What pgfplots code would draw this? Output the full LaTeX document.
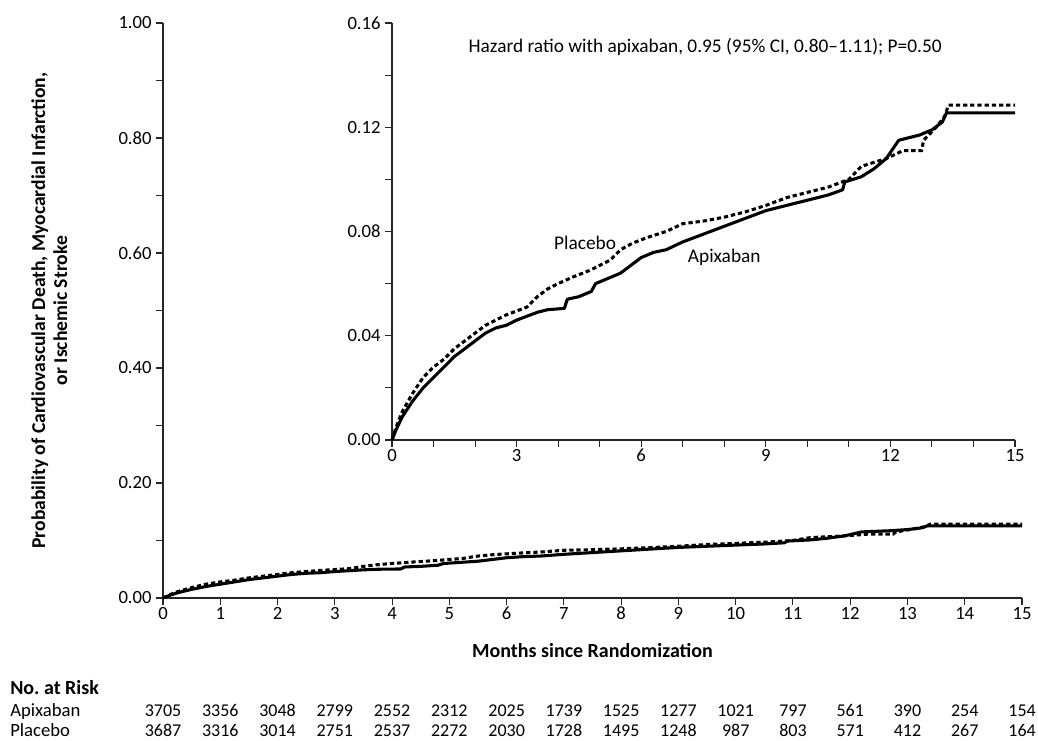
\documentclass[border=0pt]{standalone}
\usepackage{fontspec}
\setmainfont{Carlito}[Numbers=Lining]
\usepackage{pgfplots}
\pgfplotsset{compat=1.18}
\usepackage{pgfplotstable}

% Kaplan-Meier estimates (months, cumulative probability)
\pgfplotstableread{
t y
0 0
0.1 0.004
0.25 0.009
0.5 0.015
0.75 0.020
1.0 0.024
1.25 0.028
1.5 0.032
1.75 0.035
2.0 0.038
2.25 0.041
2.5 0.043
2.75 0.044
3.0 0.046
3.25 0.0475
3.5 0.049
3.75 0.050
4.15 0.0505
4.22 0.054
4.5 0.055
4.8 0.057
4.9 0.060
5.2 0.062
5.5 0.064
5.75 0.067
6.0 0.070
6.3 0.072
6.6 0.073
7.0 0.076
7.5 0.079
8.0 0.082
8.5 0.085
9.0 0.088
9.5 0.090
10.0 0.092
10.5 0.094
10.85 0.096
10.9 0.099
11.3 0.101
11.6 0.104
11.9 0.108
12.2 0.115
12.7 0.117
13.0 0.119
13.25 0.122
13.35 0.1255
15.0 0.1255
}\apixaban

\pgfplotstableread{
t y
0 0
0.1 0.005
0.25 0.011
0.5 0.018
0.75 0.024
1.0 0.028
1.25 0.031
1.5 0.035
1.75 0.038
2.0 0.041
2.25 0.044
2.5 0.046
2.75 0.048
3.0 0.0495
3.25 0.051
3.5 0.055
3.75 0.058
4.0 0.060
4.35 0.0625
4.75 0.065
5.0 0.067
5.25 0.069
5.5 0.073
5.8 0.0756
6.2 0.078
6.6 0.080
7.0 0.083
7.5 0.084
8.0 0.0855
8.5 0.0875
9.0 0.090
9.5 0.093
10.0 0.095
10.5 0.097
11.0 0.100
11.3 0.105
11.9 0.108
12.3 0.111
12.75 0.111
12.8 0.115
13.1 0.120
13.3 0.124
13.4 0.1285
15.0 0.1285
}\placebo

\pgfplotsset{
  km/.style={
    scale only axis,
    axis lines*=left,
    axis line style={line width=0.8pt, black!85},
    tick style={line width=0.8pt, black!85},
    tick align=outside,
    major tick length=5pt,
    minor tick length=5pt,
    xmin=0, xmax=15,
    tick label style={font=\fontsize{14}{16}\selectfont},
    xticklabel style={text height=1.6ex, text depth=0pt},
    /pgf/number format/assume math mode=true,
    clip=false,
  },
  apix/.style={black, line width=2.3pt, line join=round},
  plac/.style={black, line width=2.3pt, dash pattern=on 3.2pt off 2.2pt},
}

\begin{document}
\begin{tikzpicture}
\path[use as bounding box] (0pt,0pt) rectangle (778.5pt,555pt);

\begin{axis}[km,
  at={(122.25pt,106.5pt)}, anchor=south west,
  width=644.25pt, height=431.25pt,
  ymin=0, ymax=1,
  xtick={0,1,...,15},
  ytick={0,0.2,0.4,0.6,0.8,1.0},
  minor ytick={0.1,0.3,0.5,0.7,0.9},
  yticklabel style={/pgf/number format/fixed, /pgf/number format/fixed zerofill, /pgf/number format/precision=2},
  xlabel={Months since Randomization},
  xlabel style={font=\fontsize{15}{17}\selectfont\bfseries, at={(axis description cs:0.5,-0.092)}, anchor=center},
  ylabel={Probability of Cardiovascular Death, Myocardial Infarction,\\or Ischemic Stroke},
  ylabel style={font=\fontsize{14.7}{16.5}\selectfont\bfseries, align=center, rotate=0, at={(axis description cs:-0.106,0.5)}, anchor=south},
]
\addplot[apix] table[x=t, y=y] {\apixaban};
\addplot[plac] table[x=t, y=y] {\placebo};
\end{axis}

\begin{axis}[km,
  at={(294pt,225pt)}, anchor=south west,
  width=467.25pt, height=312.75pt,
  ymin=0, ymax=0.16,
  xtick={0,3,...,15},
  minor xtick={1,2,4,5,7,8,10,11,13,14},
  ytick={0,0.04,0.08,0.12,0.16},
  minor ytick={0.02,0.06,0.10,0.14},
  yticklabel style={/pgf/number format/fixed, /pgf/number format/fixed zerofill, /pgf/number format/precision=2},
]
\addplot[apix] table[x=t, y=y] {\apixaban};
\addplot[plac] table[x=t, y=y] {\placebo};
\node[font=\fontsize{14.5}{16}\selectfont, anchor=center] at (axis cs:7.54,0.1507) {Hazard ratio with apixaban, 0.95 (95\% CI, 0.80–1.11); P=0.50};
\node[font=\fontsize{14.5}{16}\selectfont] at (axis cs:4.65,0.0755) {Placebo};
\node[font=\fontsize{14.5}{16}\selectfont] at (axis cs:8.0,0.0700) {Apixaban};
\end{axis}

% number at risk
\node[anchor=base west, inner sep=0pt, font=\fontsize{15}{17}\selectfont\bfseries] at (7.5pt,34pt) {No.\ at Risk};
\node[anchor=base west, inner sep=0pt, font=\fontsize{14}{16}\selectfont] at (7.5pt,17.5pt) {Apixaban};
\node[anchor=base west, inner sep=0pt, font=\fontsize{14}{16}\selectfont] at (7.5pt,2.5pt) {Placebo};
\foreach \n [count=\k from 0] in {3705,3356,3048,2799,2552,2312,2025,1739,1525,1277,1021,797,561,390,254,154}
  \node[anchor=base, inner sep=0pt, font=\fontsize{13.5}{15}\selectfont] at ({(163+\k*57.27)*0.75pt},17.5pt) {\n};
\foreach \n [count=\k from 0] in {3687,3316,3014,2751,2537,2272,2030,1728,1495,1248,987,803,571,412,267,164}
  \node[anchor=base, inner sep=0pt, font=\fontsize{13.5}{15}\selectfont] at ({(163+\k*57.27)*0.75pt},2.5pt) {\n};
\end{tikzpicture}
\end{document}
